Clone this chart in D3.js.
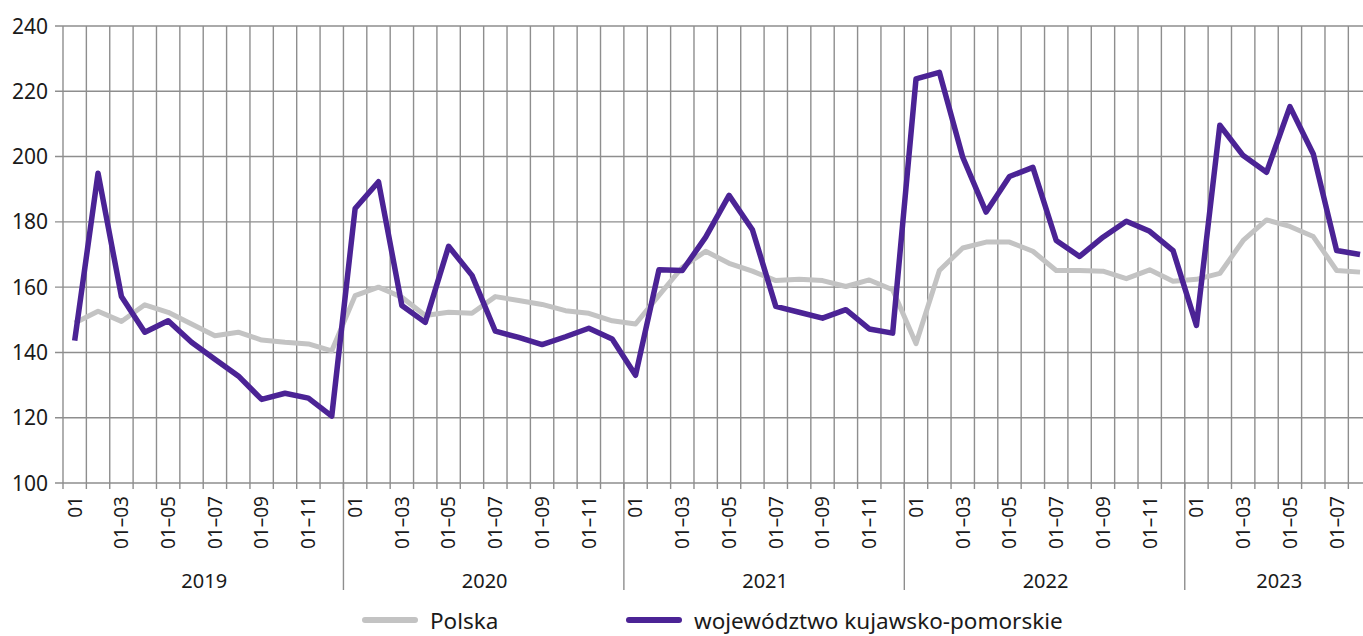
<!DOCTYPE html>
<html>
<head>
<meta charset="utf-8">
<script src="https://cdn.jsdelivr.net/npm/d3@7"></script>
<style>
  html, body { margin: 0; padding: 0; background: #fff; overflow: hidden; }
  svg { display: block; font-family: "Noto Sans", sans-serif; }
</style>
</head>
<body>
<div id="chart"></div>
<script>
const WIDTH = 1363;
const HEIGHT = 636;
const PURPLE = "#4b2395";
const GREY = "#c3c3c3";
const GRID = "#8e8e8e";

// --------------- data ---------------
const years = [2019, 2020, 2021, 2022, 2023];
const monthsPerYear = [12, 12, 12, 12, 8];
const monthLabels = ["01", "", "01–03", "", "01–05", "", "01–07", "", "01–09", "", "01–11", ""];
const yTicks = [100, 120, 140, 160, 180, 200, 220, 240];

const polska = [
  149, 152.6, 149.5, 154.6, 152.3, 148.7, 145.1, 146.2, 143.8, 143.1, 142.6, 140.5,
  157.4, 160, 156.9, 151.3, 152.3, 152, 157.1, 155.9, 154.7, 152.8, 152, 149.7,
  148.7, 157.5, 166.1, 171, 167.3, 164.9, 162, 162.4, 162, 160.2, 162.2, 159.2,
  142.7, 165.1, 172, 173.8, 173.8, 171, 165.1, 165.1, 164.9, 162.6, 165.3, 161.8,
  162.4, 164.2, 174.3, 180.6, 178.6, 175.5, 165.1, 164.6
];
const kujawsko = [
  143.6, 194.9, 157.1, 146.2, 149.7, 143.1, 137.9, 132.8, 125.6, 127.5, 126, 120.5,
  184.1, 192.3, 154.4, 149.2, 172.5, 163.6, 146.5, 144.6, 142.4, 144.8, 147.4, 144.1,
  133, 165.3, 165.1, 175.3, 188.1, 177.6, 154.1, 152.3, 150.5, 153.1, 147.2, 145.9,
  223.8, 225.8, 199.8, 183, 193.9, 196.7, 174.3, 169.4, 175.3, 180.2, 177.1, 171.2,
  148.3, 209.6, 200.3, 195.2, 215.3, 200.8, 171.2, 170
];

// month keys like "2019-01"
const months = [];
years.forEach((yr, i) => {
  for (let m = 1; m <= monthsPerYear[i]; m++) months.push(yr + "-" + String(m).padStart(2, "0"));
});

// --------------- scales ---------------
const x = d3.scaleBand().domain(months).range([63, 63 + months.length * 23.37]);
const y = d3.scaleLinear().domain([100, 240]).range([483, 26]);
const cx = d => x(d) + x.bandwidth() / 2;

const svg = d3.select("#chart").append("svg")
  .attr("width", WIDTH)
  .attr("height", HEIGHT);

// horizontal grid + y labels
svg.append("g")
  .selectAll("line")
  .data(yTicks)
  .enter()
  .append("line")
  .attr("x1", 55)
  .attr("x2", x.range()[1])
  .attr("y1", d => y(d))
  .attr("y2", d => y(d))
  .attr("stroke", GRID)
  .attr("stroke-width", 1.4);

svg.append("g")
  .selectAll("text")
  .data(yTicks)
  .enter()
  .append("text")
  .attr("x", 48)
  .attr("y", d => y(d))
  .attr("dy", "0.36em")
  .attr("text-anchor", "end")
  .attr("font-size", 21)
  .attr("fill", "#1a1a1a")
  .text(d => d);

// vertical grid at month boundaries (with small tick below the axis)
const bounds = months.map(m => x(m));
bounds.push(x.range()[1]);
svg.append("g")
  .selectAll("line")
  .data(bounds)
  .enter()
  .append("line")
  .attr("x1", d => d)
  .attr("x2", d => d)
  .attr("y1", y(240))
  .attr("y2", 489)
  .attr("stroke", GRID)
  .attr("stroke-width", 1.4);

// year separators
svg.append("g")
  .selectAll("line")
  .data(years.slice(1))
  .enter()
  .append("line")
  .attr("x1", d => x(d + "-01"))
  .attr("x2", d => x(d + "-01"))
  .attr("y1", 483)
  .attr("y2", 590)
  .attr("stroke", GRID)
  .attr("stroke-width", 1.4);

// month labels, rotated
svg.append("g")
  .selectAll("text")
  .data(months.filter(m => monthLabels[+m.slice(5) - 1] !== ""))
  .enter()
  .append("text")
  .attr("transform", d => `translate(${cx(d)},496) rotate(-90)`)
  .attr("dy", "0.36em")
  .attr("text-anchor", "end")
  .attr("font-size", 19)
  .attr("fill", "#1a1a1a")
  .text(d => monthLabels[+d.slice(5) - 1]);

// year labels, centred over each year's months
svg.append("g")
  .selectAll("text")
  .data(years)
  .enter()
  .append("text")
  .attr("x", (d, i) => {
    const first = x(d + "-01");
    const last = first + monthsPerYear[i] * x.bandwidth();
    return (first + last) / 2 + 1;
  })
  .attr("y", 588)
  .attr("text-anchor", "middle")
  .attr("font-size", 20)
  .attr("fill", "#1a1a1a")
  .text(d => d);

// lines
const line = d3.line()
  .x((d, i) => cx(months[i]))
  .y(d => y(d));

svg.append("path")
  .datum(polska)
  .attr("d", line)
  .attr("fill", "none")
  .attr("stroke", GREY)
  .attr("stroke-width", 5)
  .attr("stroke-linejoin", "round");

svg.append("path")
  .datum(kujawsko)
  .attr("d", line)
  .attr("fill", "none")
  .attr("stroke", PURPLE)
  .attr("stroke-width", 5.5)
  .attr("stroke-linejoin", "round");

// legend
const legend = [
  { name: "Polska", color: GREY, x: 363 },
  { name: "województwo kujawsko-pomorskie", color: PURPLE, x: 627 }
];
const lg = svg.append("g")
  .selectAll("g")
  .data(legend)
  .enter()
  .append("g")
  .attr("transform", d => `translate(${d.x},620)`);
lg.append("line")
  .attr("x1", 2).attr("x2", 52)
  .attr("stroke", d => d.color)
  .attr("stroke-width", 6)
  .attr("stroke-linecap", "round");
lg.append("text")
  .attr("x", 67)
  .attr("y", 9)
  .attr("font-size", 22.5)
  .attr("fill", "#1a1a1a")
  .text(d => d.name);
</script>
</body>
</html>
